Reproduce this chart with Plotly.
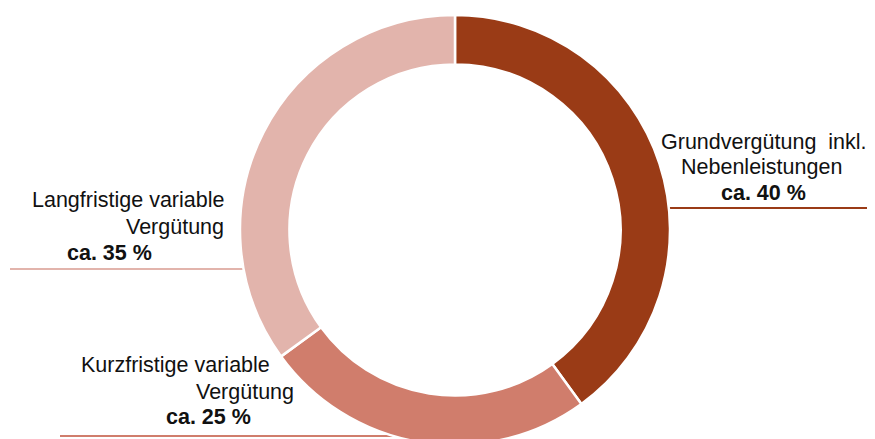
import plotly.graph_objects as go

# page body has an 8px margin; the figure overflows slightly at the bottom like the reference crop
OFF = 8
W, H = 875 - OFF, 440

categories = ["Grundvergütung inkl. Nebenleistungen", "Kurzfristige variable Vergütung", "Langfristige variable Vergütung"]
values = [40, 25, 35]
colors = ["#9A3B16", "#D07D6C", "#E2B4AC"]

label_lines = [
    ["Grundvergütung  inkl.", "Nebenleistungen"],
    ["Kurzfristige variable", "Vergütung"],
    ["Langfristige variable", "Vergütung"],
]
pct_texts = [f"ca. {v} %" for v in values]

def px(x):
    return (x - OFF) / W

def py(y):
    return 1 - (y - OFF) / H

cx, cy, r = 455, 230, 215

fig = go.Figure(go.Pie(
    labels=categories, values=values, sort=False, direction="clockwise", rotation=0,
    hole=0.77, marker=dict(colors=colors, line=dict(color="white", width=2.5)),
    textinfo="none", hoverinfo="label+percent", showlegend=False,
    domain=dict(x=[px(cx - r), px(cx + r)], y=[max(0, py(cy + r)), py(cy - r)]),
))

font = dict(family="Liberation Sans, Arial, sans-serif", size=21.5, color="#111111")
ann = []
ann += [
    dict(x=px(764), y=py(142), text=label_lines[0][0], xanchor="center"),
    dict(x=px(761), y=py(167), text=label_lines[0][1], xanchor="center"),
    dict(x=px(763), y=py(193), text=f"<b>{pct_texts[0]}</b>", xanchor="center"),
]
ann += [
    dict(x=px(226), y=py(200), text=label_lines[2][0], xanchor="right"),
    dict(x=px(226), y=py(227), text=label_lines[2][1], xanchor="right"),
    dict(x=px(109), y=py(253), text=f"<b>{pct_texts[2]}</b>", xanchor="center"),
]
ann += [
    dict(x=px(272), y=py(365), text=label_lines[1][0], xanchor="right"),
    dict(x=px(296), y=py(392), text=label_lines[1][1], xanchor="right"),
    dict(x=px(208), y=py(417), text=f"<b>{pct_texts[1]}</b>", xanchor="center"),
]
for a in ann:
    a.update(xref="paper", yref="paper", yanchor="middle", showarrow=False, font=font)

shapes = [
    dict(type="line", xref="paper", yref="paper", x0=px(668), x1=1.0, y0=py(208), y1=py(208),
         line=dict(color=colors[0], width=2), layer="below"),
    dict(type="line", xref="paper", yref="paper", x0=px(10), x1=px(250), y0=py(269), y1=py(269),
         line=dict(color=colors[2], width=2), layer="below"),
    dict(type="line", xref="paper", yref="paper", x0=px(60), x1=px(400), y0=py(436), y1=py(436),
         line=dict(color=colors[1], width=2), layer="below"),
]

fig.update_layout(
    width=W, height=H, margin=dict(l=0, r=0, t=0, b=0),
    paper_bgcolor="white", plot_bgcolor="white",
    annotations=ann, shapes=shapes,
)

fig.write_html("out.html")
